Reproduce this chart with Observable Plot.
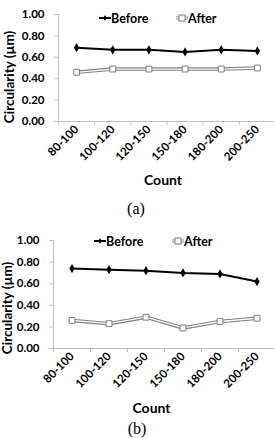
<!DOCTYPE html>
<html>
<head>
<meta charset="utf-8">
<script src="https://cdn.jsdelivr.net/npm/d3@7"></script>
<script src="https://cdn.jsdelivr.net/npm/@observablehq/plot@0.6"></script>
<style>
  html, body { margin: 0; padding: 0; background: #fff; }
  #fig { position: relative; width: 274px; height: 438px; overflow: hidden; background: #fff; }
  #fig svg.plot { position: absolute; left: 0; }
  .legend { position: absolute; display: flex; align-items: center; font: 700 12.5px Lato, sans-serif; color: #000; white-space: nowrap; }
  .legend svg { display: block; }
  .caption { position: absolute; width: 60px; text-align: center; font: 16px "Liberation Serif", "Times New Roman", serif; line-height: 16px; color: #000; }
</style>
</head>
<body>
<div id="fig"></div>
<script>
// Particle count bins shared by both panels
const countBins = ["80-100", "100-120", "120-150", "150-180", "180-200", "200-250"];

// Panel (a): circularity before / after
const beforeA = [0.69, 0.67, 0.67, 0.65, 0.67, 0.66];
const afterA  = [0.46, 0.49, 0.49, 0.49, 0.49, 0.50];

// Panel (b): circularity before / after
const beforeB = [0.74, 0.73, 0.72, 0.70, 0.69, 0.62];
const afterB  = [0.26, 0.23, 0.29, 0.19, 0.25, 0.28];

const yTicks = [0, 0.2, 0.4, 0.6, 0.8, 1.0];
const seriesNames = ["Before", "After"];

const fig = document.getElementById("fig");
const axisGray = "#bfbfbf";
const afterGray = "#7f7f7f";

function rows(values) {
  return values.map((v, i) => ({slot: i + 0.5, bin: countBins[i], value: v}));
}

function panel(opt) {
  const before = rows(opt.before);
  const after = rows(opt.after);
  const n = countBins.length;
  const svg = Plot.plot({
    width: 274,
    height: opt.height,
    marginTop: opt.marginTop,
    marginBottom: opt.marginBottom,
    marginLeft: opt.xRange[0],
    marginRight: 0,
    style: {fontFamily: "Lato, sans-serif", fontWeight: 700, fontSize: "11.5px", color: "#000", background: "transparent", overflow: "visible"},
    x: {type: "linear", domain: [0, n], range: opt.xRange},
    y: {domain: [0, 1]},
    marks: [
      // axis lines
      Plot.ruleX([0], {stroke: axisGray, strokeWidth: 1}),
      Plot.ruleY([0], {stroke: axisGray, strokeWidth: 1}),
      // y ticks and labels
      Plot.axisY({ticks: yTicks, tickFormat: d3.format(".2f"), tickSize: 4, tickPadding: 10, stroke: axisGray, fill: "#000", label: null}),
      // category boundary tick marks
      Plot.axisX({ticks: d3.range(n + 1), tickFormat: () => "", tickSize: 4, stroke: axisGray, label: null}),
      // category labels at slot centres
      Plot.axisX({ticks: before.map(d => d.slot), tickFormat: s => countBins[Math.floor(s)], tickSize: 0, tickPadding: 6, tickRotate: -45, fill: "#000", label: null}),
      // axis titles
      Plot.text(["Circularity (µm)"], {text: d => d, frameAnchor: "left", textAnchor: "middle", lineAnchor: "middle", rotate: -90, dx: opt.yTitle[0], dy: opt.yTitle[1], fontSize: 13.5, fontWeight: 700}),
      Plot.text(["Count"], {text: d => d, frameAnchor: "bottom", textAnchor: "middle", lineAnchor: "middle", dx: opt.xTitle[0], dy: opt.xTitle[1], fontSize: 14, fontWeight: 700}),
      // "After" series: grey outlined line with open squares
      Plot.line(after, {x: "slot", y: "value", stroke: afterGray, strokeWidth: 3.5}),
      Plot.line(after, {x: "slot", y: "value", stroke: "#fff", strokeWidth: 1.3}),
      Plot.dot(after, {x: "slot", y: "value", symbol: "square", r: 3.3, fill: "#fff", stroke: afterGray, strokeWidth: 1}),
      // "Before" series: black line with diamonds
      Plot.line(before, {x: "slot", y: "value", stroke: "#000", strokeWidth: 2}),
      Plot.dot(before, {x: "slot", y: "value", symbol: "diamond", r: 2.8, fill: "#000", stroke: "none"})
    ]
  });
  svg.style.top = opt.top + "px";
  fig.appendChild(svg);

  // legend entries
  const swatches = {
    Before: '<svg width="12" height="8"><line x1="0" y1="4" x2="12" y2="4" stroke="#000" stroke-width="2"/><path d="M6,1.2L8,4L6,6.8L4,4Z" fill="#000"/></svg>',
    After: '<svg width="12" height="8"><line x1="0" y1="4" x2="12" y2="4" stroke="' + afterGray + '" stroke-width="3"/><line x1="0" y1="4" x2="12" y2="4" stroke="#fff" stroke-width="1.2"/><rect x="3" y="1" width="6" height="6" fill="#fff" stroke="' + afterGray + '"/></svg>'
  };
  seriesNames.forEach((name, k) => {
    const el = document.createElement("div");
    el.className = "legend";
    el.style.left = opt.legendX[k] + "px";
    el.style.top = (opt.legendY - 8) + "px";
    el.style.height = "16px";
    el.innerHTML = swatches[name] + "<span>" + name + "</span>";
    fig.appendChild(el);
  });

  const cap = document.createElement("div");
  cap.className = "caption";
  cap.style.left = (opt.captionX - 30) + "px";
  cap.style.top = opt.captionY + "px";
  cap.textContent = opt.caption;
  fig.appendChild(cap);
}

panel({
  before: beforeA, after: afterA,
  top: 0, height: 220, marginTop: 14, marginBottom: 99,
  xRange: [58, 275],
  yTitle: [-49, 9], xTitle: [-3.5, 59],
  legendX: [99, 176], legendY: 18,
  caption: "(a)", captionX: 136, captionY: 201
});

panel({
  before: beforeB, after: afterB,
  top: 220, height: 218, marginTop: 20, marginBottom: 90,
  xRange: [53, 275],
  yTitle: [-46, 13.5], xTitle: [-12.5, 60],
  legendX: [94, 172], legendY: 241,
  caption: "(b)", captionX: 137, captionY: 421
});
</script>
</body>
</html>
